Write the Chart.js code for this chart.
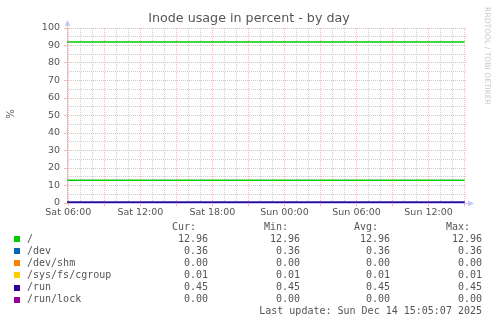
<!DOCTYPE html>
<html>
<head>
<meta charset="utf-8">
<title>Inode usage in percent - by day</title>
<script src="https://cdn.jsdelivr.net/npm/chart.js@4/dist/chart.umd.min.js"></script>
<style>
  html, body { margin: 0; padding: 0; background: #fff; }
  #wrap { width: 497px; height: 324px; }
</style>
</head>
<body>
<div id="wrap"><canvas id="inodeChart" width="497" height="324"></canvas></div>
<script>
// hours since Sat 06:00
const hours = [-0.1, 6, 12, 18, 24, 30, 33.0];
const xTickLabels = ['Sat 06:00', 'Sat 12:00', 'Sat 18:00', 'Sun 00:00', 'Sun 06:00', 'Sun 12:00'];

const seriesNames = ['/', '/dev', '/dev/shm', '/sys/fs/cgroup', '/run', '/run/lock'];
const seriesColors = ['#00cc00', '#0066b3', '#ff8000', '#ffcc00', '#330099', '#990099'];

const rootValues    = [12.96, 12.96, 12.96, 12.96, 12.96, 12.96, 12.96];
const devValues     = [0.36, 0.36, 0.36, 0.36, 0.36, 0.36, 0.36];
const shmValues     = [0.00, 0.00, 0.00, 0.00, 0.00, 0.00, 0.00];
const cgroupValues  = [0.01, 0.01, 0.01, 0.01, 0.01, 0.01, 0.01];
const runValues     = [0.45, 0.45, 0.45, 0.45, 0.45, 0.45, 0.45];
const runLockValues = [0.00, 0.00, 0.00, 0.00, 0.00, 0.00, 0.00];
const warningValues = [92, 92, 92, 92, 92, 92, 92];

const curValues = ['12.96', '0.36', '0.00', '0.01', '0.45', '0.00'];
const minValues = ['12.96', '0.36', '0.00', '0.01', '0.45', '0.00'];
const avgValues = ['12.96', '0.36', '0.00', '0.01', '0.45', '0.00'];
const maxValues = ['12.96', '0.36', '0.00', '0.01', '0.45', '0.00'];
const lastUpdate = 'Last update: Sun Dec 14 15:05:07 2025';

const allValues = [rootValues, devValues, shmValues, cgroupValues, runValues, runLockValues];

const MAJOR = 'rgba(228, 110, 110, 0.5)';
const MINOR = 'rgba(160, 160, 160, 0.5)';
const TEXT = '#555';
const AXIS = '#c8c8f0';

function points(vals) {
  return vals.map((v, i) => ({ x: hours[i], y: v }));
}

const datasets = allValues.map((vals, i) => ({
  label: seriesNames[i],
  data: points(vals),
  borderColor: seriesColors[i],
  borderWidth: 1.5,
  pointRadius: 0,
  fill: false,
  order: seriesNames[i] === '/run' ? -1 : i + 1
}));
datasets.push({
  label: 'warning',
  data: points(warningValues),
  borderColor: seriesColors[0],
  borderWidth: 1.5,
  pointRadius: 0,
  fill: false,
  order: 10
});

const muninDecor = {
  id: 'muninDecor',
  beforeDatasetsDraw(chart) {
    const ctx = chart.ctx;
    const a = chart.chartArea;
    ctx.save();
    ctx.strokeStyle = AXIS;
    ctx.fillStyle = AXIS;
    ctx.lineWidth = 1;
    ctx.beginPath();
    ctx.moveTo(a.left + 0.5, a.bottom + 0.5);
    ctx.lineTo(a.left + 0.5, a.top - 4);
    ctx.moveTo(a.left, a.bottom + 0.5);
    ctx.lineTo(a.right + 2, a.bottom + 0.5);
    ctx.stroke();
    // arrow heads
    ctx.beginPath();
    ctx.moveTo(a.left - 2.5, a.top - 2);
    ctx.lineTo(a.left + 3.5, a.top - 2);
    ctx.lineTo(a.left + 0.5, a.top - 8);
    ctx.closePath();
    ctx.fill();
    ctx.beginPath();
    ctx.moveTo(a.right + 1, a.bottom - 2.5);
    ctx.lineTo(a.right + 1, a.bottom + 3.5);
    ctx.lineTo(a.right + 7, a.bottom + 0.5);
    ctx.closePath();
    ctx.fill();
    ctx.restore();
  },
  afterDraw(chart) {
    const ctx = chart.ctx;
    ctx.save();
    // title
    ctx.fillStyle = TEXT;
    ctx.font = '12.7px "DejaVu Sans"';
    ctx.textAlign = 'center';
    ctx.textBaseline = 'middle';
    ctx.fillText('Inode usage in percent - by day', 249, 19);

    // y axis label
    ctx.save();
    ctx.translate(11, 114);
    ctx.rotate(-Math.PI / 2);
    ctx.font = '10px "DejaVu Sans"';
    ctx.fillText('%', 0, 0);
    ctx.restore();

    // watermark
    ctx.save();
    ctx.translate(487, 56);
    ctx.rotate(Math.PI / 2);
    ctx.fillStyle = '#c8c8c8';
    ctx.font = '7.6px "DejaVu Sans"';
    ctx.fillText('RRDTOOL / TOBI OETIKER', 0, 0);
    ctx.restore();

    // legend
    ctx.font = '10px "DejaVu Sans Mono"';
    ctx.textBaseline = 'middle';
    ctx.fillStyle = TEXT;
    const rowY = i => 227 + 12.1 * i;
    const cols = [
      { right: 208, head: 'Cur:', vals: curValues },
      { right: 300, head: 'Min:', vals: minValues },
      { right: 390, head: 'Avg:', vals: avgValues },
      { right: 482, head: 'Max:', vals: maxValues }
    ];
    ctx.textAlign = 'right';
    cols.forEach(c => {
      ctx.fillText(c.head, c.right - 12, rowY(0));
      c.vals.forEach((v, i) => ctx.fillText(v, c.right, rowY(i + 1)));
    });
    ctx.textAlign = 'left';
    seriesNames.forEach((name, i) => {
      const y = rowY(i + 1);
      ctx.fillStyle = seriesColors[i];
      ctx.fillRect(14, Math.round(y) - 3, 6, 6);
      ctx.fillStyle = TEXT;
      ctx.fillText(name, 27, y);
    });
    ctx.textAlign = 'right';
    ctx.fillText(lastUpdate, 482, rowY(7));
    ctx.restore();
  }
};

new Chart(document.getElementById('inodeChart').getContext('2d'), {
  type: 'line',
  data: { datasets: datasets },
  options: {
    responsive: false,
    animation: false,
    devicePixelRatio: 1,
    layout: { padding: { left: 0, top: 28, right: 30, bottom: 0 } },
    plugins: { legend: { display: false }, tooltip: { enabled: false }, title: { display: false } },
    scales: {
      x: {
        type: 'linear',
        min: -0.11,
        max: 33.2,
        afterFit: s => { s.height = 121; },
        border: { display: false, dash: [1, 1] },
        grid: {
          color: c => (c.tick && c.tick.value % 3 === 0 ? MAJOR : MINOR),
          tickColor: c => (c.tick && c.tick.value % 3 === 0 ? MAJOR : 'rgba(0,0,0,0)'),
          tickLength: 3,
          lineWidth: 1
        },
        ticks: {
          stepSize: 1,
          includeBounds: false,
          autoSkip: false,
          maxRotation: 0,
          padding: 1,
          color: TEXT,
          font: { family: 'DejaVu Sans', size: 9.5 },
          callback: v => (v % 6 === 0 && v >= 0 && v / 6 < xTickLabels.length ? xTickLabels[v / 6] : '')
        }
      },
      y: {
        min: 0,
        max: 100,
        afterFit: s => { s.width = 67; },
        border: { display: false, dash: [1, 1] },
        grid: {
          color: c => (c.tick && c.tick.value % 10 === 0 ? MAJOR : MINOR),
          tickColor: c => (c.tick && c.tick.value % 10 === 0 ? MAJOR : 'rgba(0,0,0,0)'),
          tickLength: 3,
          lineWidth: 1
        },
        ticks: {
          stepSize: 5,
          autoSkip: false,
          padding: 4,
          color: TEXT,
          font: { family: 'DejaVu Sans', size: 9.5 },
          callback: v => (v % 10 === 0 ? String(v) : '')
        }
      }
    }
  },
  plugins: [muninDecor]
});
</script>
</body>
</html>
